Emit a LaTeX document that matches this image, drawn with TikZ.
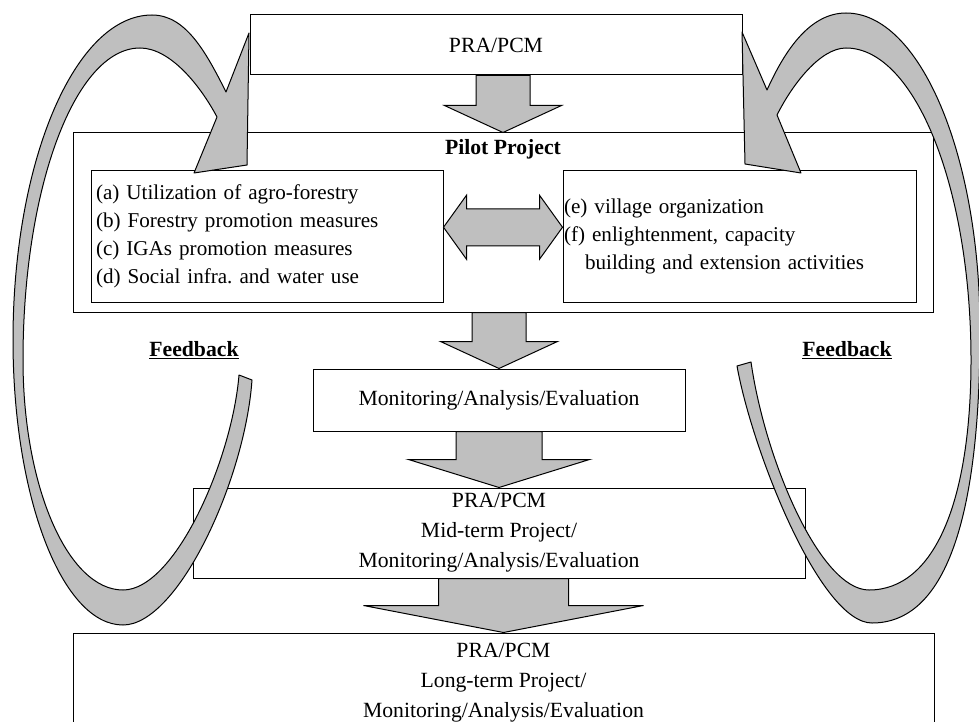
\documentclass[tikz,border=0pt]{standalone}
\usepackage{fontspec}
\setmainfont{Liberation Serif}
\usetikzlibrary{calc}
\usetikzlibrary{positioning}
\tikzset{
	flowbox/.style = {
		draw=black,
		line width=1pt,
		fill=white,
		align=center,
		inner sep=0pt,
		font={\fontsize{21.7}{30}\selectfont}
	},
	flowbox_list/.style = {
		flowbox,
		align=left,
		font={\fontsize{21.1}{27.8}\selectfont}
	},
	block_arrow/.style = {
		draw=black,
		line width=1pt,
		fill=gray!50,
		line join=miter
	},
	feedback_band/.style = {
		block_arrow,
		line join=round
	},
	title_text/.style = {
		inner sep=0pt,
		font={\fontsize{21.7}{26}\selectfont\bfseries}
	},
}
\newcommand{\downblock}[5]{%
	\draw[block_arrow] let \p1 = (#1.south), \p2 = (#2.north) in
		(\x2-#3pt,\y1) -- (\x2+#3pt,\y1) -- (\x2+#3pt,\y2+#5pt) -- (\x2+#4pt,\y2+#5pt)
		-- (\x2,\y2) -- (\x2-#4pt,\y2+#5pt) -- (\x2-#3pt,\y2+#5pt) -- cycle;
}
\newcommand{\bothblock}[6]{%
	\draw[block_arrow] let \p1 = (#1.east), \p2 = (#2.west) in
		(\x1,\y1+#6pt) -- (\x1+#5pt,\y1+#6pt+#4pt) -- (\x1+#5pt,\y1+#6pt+#3pt) -- (\x2-#5pt,\y1+#6pt+#3pt)
		-- (\x2-#5pt,\y1+#6pt+#4pt) -- (\x2,\y1+#6pt) -- (\x2-#5pt,\y1+#6pt-#4pt) -- (\x2-#5pt,\y1+#6pt-#3pt)
		-- (\x1+#5pt,\y1+#6pt-#3pt) -- (\x1+#5pt,\y1+#6pt-#4pt) -- cycle;
}
\begin{document}
\begin{tikzpicture}[x=1pt, y=-1pt]
\useasboundingbox (0,0) rectangle (979,722);
\clip (0,0) rectangle (979,722);
\node [flowbox, minimum width=492pt, minimum height=60pt] (prapcm) at (496,45) {PRA/PCM};
\node [flowbox, minimum width=860pt, minimum height=179pt] (pilot) at (503,222.5) {};
\node [title_text] (pilot_t) at ($(pilot.north)+(0,17)$) {Pilot Project};
\node [flowbox_list, text width=342pt, inner xsep=5pt, minimum height=131.5pt] (lft) at (267,236.25) {
	(a) Utilization of agro-forestry\\
	(b) Forestry promotion measures\\
	(c) IGAs promotion measures\\
	(d) Social infra.\ and water use
};
\node [flowbox_list, text width=351pt, inner xsep=1pt, minimum height=131.5pt] (rgt) at (739.5,236.25) {
	(e) village organization\\
	(f) enlightenment, capacity\\
	\hspace*{1em}building and extension activities
};
\node [flowbox, minimum width=372pt, minimum height=62pt] (mon) at (499,400) {Monitoring/Analysis/Evaluation};
\node [flowbox, minimum width=612pt, minimum height=90pt] (mid) at (499,533) {PRA/PCM\\Mid-term Project/\\Monitoring/Analysis/Evaluation};
\node [flowbox, minimum width=861pt, minimum height=100pt] (long) at (503.5,683) {PRA/PCM\\Long-term Project/\\Monitoring/Analysis/Evaluation};

\downblock{prapcm}{pilot}{27}{58.5}{27}
\downblock{pilot}{mon}{27}{58.5}{27}
\downblock{mon}{mid}{43}{90.5}{28}
\downblock{mid}{long}{65}{140}{27}
\bothblock{lft}{rgt}{18.5}{32}{23}{9}

% feedback loops
\draw [feedback_band] (249,33) -- (226,92)
	.. controls (205,50) and (185,15) .. (152,15)
	.. controls (75,15) and (13,161) .. (13,340)
	.. controls (13,497) and (62,625) .. (123,625)
	.. controls (178,625) and (245,480) .. (252,380)
	-- (239,375)
	.. controls (232,460) and (175,590) .. (123,590)
	.. controls (68,590) and (23,487) .. (23,360)
	.. controls (23,188) and (75,48) .. (140,48)
	.. controls (170,48) and (200,85) .. (217,117)
	-- (194,173) -- (247,165) -- cycle;
\draw [feedback_band] (742,32) -- (767,90)
	.. controls (785,50) and (810,13) .. (846,13)
	.. controls (920,13) and (980,155) .. (980,330)
	.. controls (980,520) and (945,623) .. (872,623)
	.. controls (820,623) and (752,450) .. (737,366)
	-- (751,362)
	.. controls (765,460) and (820,590) .. (869,590)
	.. controls (935,590) and (971,500) .. (971,360)
	.. controls (971,188) and (915,48) .. (846,48)
	.. controls (820,48) and (792,85) .. (777,115)
	-- (801,173) -- (745,164) -- cycle;

\node [title_text] (fb_l) at (194,350) {\underline{Feedback}};
\node [title_text] (fb_r) at (847,350) {\underline{Feedback}};
\end{tikzpicture}
\end{document}
